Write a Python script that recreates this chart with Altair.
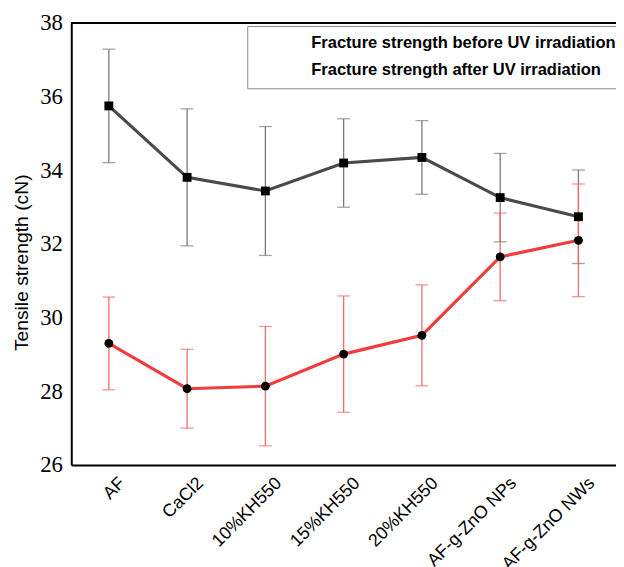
import altair as alt
import pandas as pd

categories = ["AF", "CaCl2", "10%KH550", "15%KH550", "20%KH550", "AF-g-ZnO NPs", "AF-g-ZnO NWs"]
series = ["Fracture strength before UV irradiation", "Fracture strength after UV irradiation"]
before_mean = [35.75, 33.81, 33.44, 34.20, 34.35, 33.26, 32.74]
before_err = [1.54, 1.86, 1.75, 1.20, 1.00, 1.20, 1.27]
after_mean = [29.30, 28.07, 28.14, 29.01, 29.52, 31.65, 32.10]
after_err = [1.26, 1.07, 1.62, 1.58, 1.37, 1.19, 1.53]
y_ticks = [26, 28, 30, 32, 34, 36, 38]

rows = []
for s, means, errs in [(series[0], before_mean, before_err), (series[1], after_mean, after_err)]:
    for c, m, e in zip(categories, means, errs):
        rows.append({"category": c, "series": s, "mean": m, "err": e})
df = pd.DataFrame(rows)

x_axis = alt.Axis(labelOffset=7, labelPadding=9)
x_enc = alt.X("category:N", sort=categories,
              scale=alt.Scale(type="point", padding=0.48), title=None, axis=x_axis)
y_scale = alt.Scale(domain=[26, 38], nice=False, zero=False)
y_axis = alt.Axis(values=y_ticks, title="Tensile strength (cN)", labelFont="Liberation Serif")

base = alt.Chart(df).transform_calculate(lo="datum.mean - datum.err", hi="datum.mean + datum.err")

err_color = alt.Color("series:N", scale=alt.Scale(domain=series, range=["#7a7a7a", "#f06a6a"]), legend=None)

rules = base.mark_rule(strokeWidth=1.3).encode(
    x=x_enc, y=alt.Y("lo:Q", scale=y_scale, axis=y_axis), y2="hi:Q", color=err_color)
caps_lo = base.mark_tick(size=13, thickness=1.3, orient="horizontal").encode(
    x=x_enc, y=alt.Y("lo:Q", scale=y_scale, axis=y_axis), color=err_color)
caps_hi = base.mark_tick(size=13, thickness=1.3, orient="horizontal").encode(
    x=x_enc, y=alt.Y("hi:Q", scale=y_scale, axis=y_axis), color=err_color)

lines = base.mark_line(strokeWidth=3.2).encode(
    x=x_enc, y=alt.Y("mean:Q", scale=y_scale, axis=y_axis),
    color=alt.Color("series:N", scale=alt.Scale(domain=series, range=["#4a4a4a", "#f03c3c"]),
                    legend=alt.Legend(orient="none", legendX=178, legendY=3, title=None,
                                      labelFont="Liberation Sans", labelFontWeight="bold",
                                      labelFontSize=16.7, labelColor="black",
                                      strokeColor="#8a8a8a", fillColor="white",
                                      padding=9, rowPadding=9, symbolOpacity=0,
                                      symbolSize=100, labelOffset=39, labelLimit=400)),
    detail="series:N")

points = base.mark_point(filled=True, color="black", opacity=1, size=80).encode(
    x=x_enc, y=alt.Y("mean:Q", scale=y_scale, axis=y_axis),
    shape=alt.Shape("series:N", scale=alt.Scale(domain=series, range=["square", "circle"]), legend=None))

top_line = alt.Chart(df).mark_rule(color="black", strokeWidth=2).encode(y=alt.value(0))

chart = alt.layer(rules, caps_lo, caps_hi, lines, points, top_line).resolve_scale(color="independent").properties(
    width=551, height=447,
    autosize=alt.AutoSizeParams(type="none"),
    padding={"left": 64, "top": 12, "right": 0, "bottom": 100},
).configure_view(stroke="#bbbbbb", strokeWidth=1).configure_axisX(
    labelAngle=-45, labelFont="Liberation Sans", labelFontSize=18, labelColor="black",
    ticks=False, domainColor="black", domainWidth=2, grid=False
).configure_axisY(
    grid=False, ticks=False, labelFont="Liberation Serif",
    labelFontSize=23, labelColor="black", labelPadding=9,
    domainColor="black", domainWidth=2,
    titleFont="Liberation Sans", titleFontSize=19.5, titleFontWeight="normal",
    titleColor="black", titleX=-50, titleY=242, titleBaseline="middle"
)

chart.save("out.html", embed_options={"renderer": "svg", "actions": False})
